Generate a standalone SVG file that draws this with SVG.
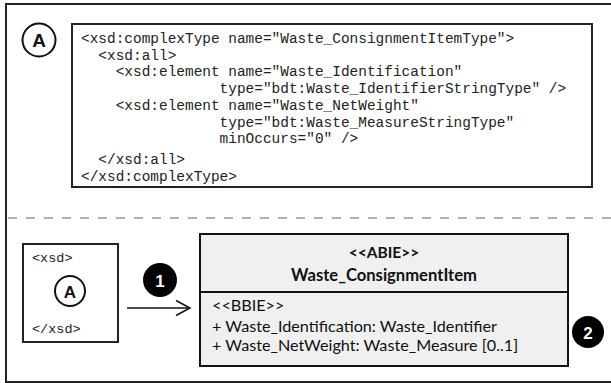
<svg xmlns="http://www.w3.org/2000/svg" width="611" height="383" viewBox="0 0 611 383">
<style>
.code{font-family:"Liberation Mono","Courier New",monospace;font-size:14.45px;fill:#222;}
.xsd{font-family:"Liberation Mono","Courier New",monospace;font-size:13.5px;fill:#222;}
.frame{fill:#fff;stroke:#222;stroke-width:2;}
.ring{fill:#fff;stroke:#111;stroke-width:2;}
.ringtxt{font-family:"Liberation Sans",Arial,sans-serif;font-weight:bold;fill:#111;text-anchor:middle;}
.dot{fill:#000;}
.dottxt{font-family:"Liberation Sans",Arial,sans-serif;font-weight:bold;fill:#fff;text-anchor:middle;font-size:17px;}
.uml{fill:#f0f0f0;stroke:#111;stroke-width:2;}
.head{font-family:Lato,"Open Sans",sans-serif;font-weight:bold;fill:#111;text-anchor:middle;}
.attr{font-family:Lato,"Open Sans",sans-serif;font-size:16.2px;fill:#111;}
</style>
<rect x="0" y="0" width="611" height="383" fill="#fff"/>
<rect x="6" y="4" width="620" height="378" fill="#fff" stroke="#222" stroke-width="2"/>
<line x1="8" y1="218" x2="611" y2="218" stroke="#b0b0b0" stroke-width="2.2" stroke-dasharray="9 9"/>

<g id="circleA-top">
<circle class="ring" cx="39" cy="40" r="16.5"/>
<text class="ringtxt" x="39" y="47" font-size="19">A</text>
</g>

<g id="code">
<rect class="frame" x="72" y="24" width="520" height="163"/>
<text class="code" xml:space="preserve"><tspan x="81" y="43">&lt;xsd:complexType name="Waste_ConsignmentItemType"&gt;</tspan><tspan x="81" y="59.5">  &lt;xsd:all&gt;</tspan><tspan x="81" y="76">    &lt;xsd:element name="Waste_Identification"</tspan><tspan x="81" y="93">                type="bdt:Waste_IdentifierStringType" /&gt;</tspan><tspan x="81" y="110">    &lt;xsd:element name="Waste_NetWeight"</tspan><tspan x="81" y="126.5">                type="bdt:Waste_MeasureStringType"</tspan><tspan x="81" y="143">                minOccurs="0" /&gt;</tspan><tspan x="81" y="164">  &lt;/xsd:all&gt;</tspan><tspan x="81" y="180.5">&lt;/xsd:complexType&gt;</tspan></text>
</g>

<g id="xsd-box">
<rect class="frame" x="23" y="244" width="95" height="98"/>
<text class="xsd" x="32" y="262">&lt;xsd&gt;</text>
<circle class="ring" cx="70" cy="291" r="15"/>
<text class="ringtxt" x="70" y="297.5" font-size="17">A</text>
<text class="xsd" x="32" y="333">&lt;/xsd&gt;</text>
</g>

<g id="badge1">
<circle class="dot" cx="160" cy="280" r="17"/>
<text class="dottxt" x="160" y="286.5">1</text>
</g>

<g id="abie">
<rect class="uml" x="200" y="234" width="368" height="132"/>
<line x1="200" y1="292" x2="568" y2="292" stroke="#111" stroke-width="2"/>
<text class="head" x="384" y="258" font-size="15.5">&lt;&lt;ABIE&gt;&gt;</text>
<text class="head" x="384" y="281" font-size="16.6">Waste_ConsignmentItem</text>
<text class="attr" x="212" y="311" font-size="9.8">&lt;&lt;BBIE&gt;&gt;</text>
<text class="attr" x="212" y="332">+ Waste_Identification: Waste_Identifier</text>
<text class="attr" x="212" y="351">+ Waste_NetWeight: Waste_Measure [0..1]</text>
</g>

<g id="badge2">
<circle class="dot" cx="588" cy="332" r="16"/>
<text class="dottxt" x="588" y="338.5">2</text>
</g>

<g id="connectors">
<line x1="127" y1="308" x2="190" y2="308" stroke="#111" stroke-width="1.5"/>
<polyline points="176,300.5 190,308 176,315.5" fill="none" stroke="#111" stroke-width="1.5"/>
</g>
</svg>
